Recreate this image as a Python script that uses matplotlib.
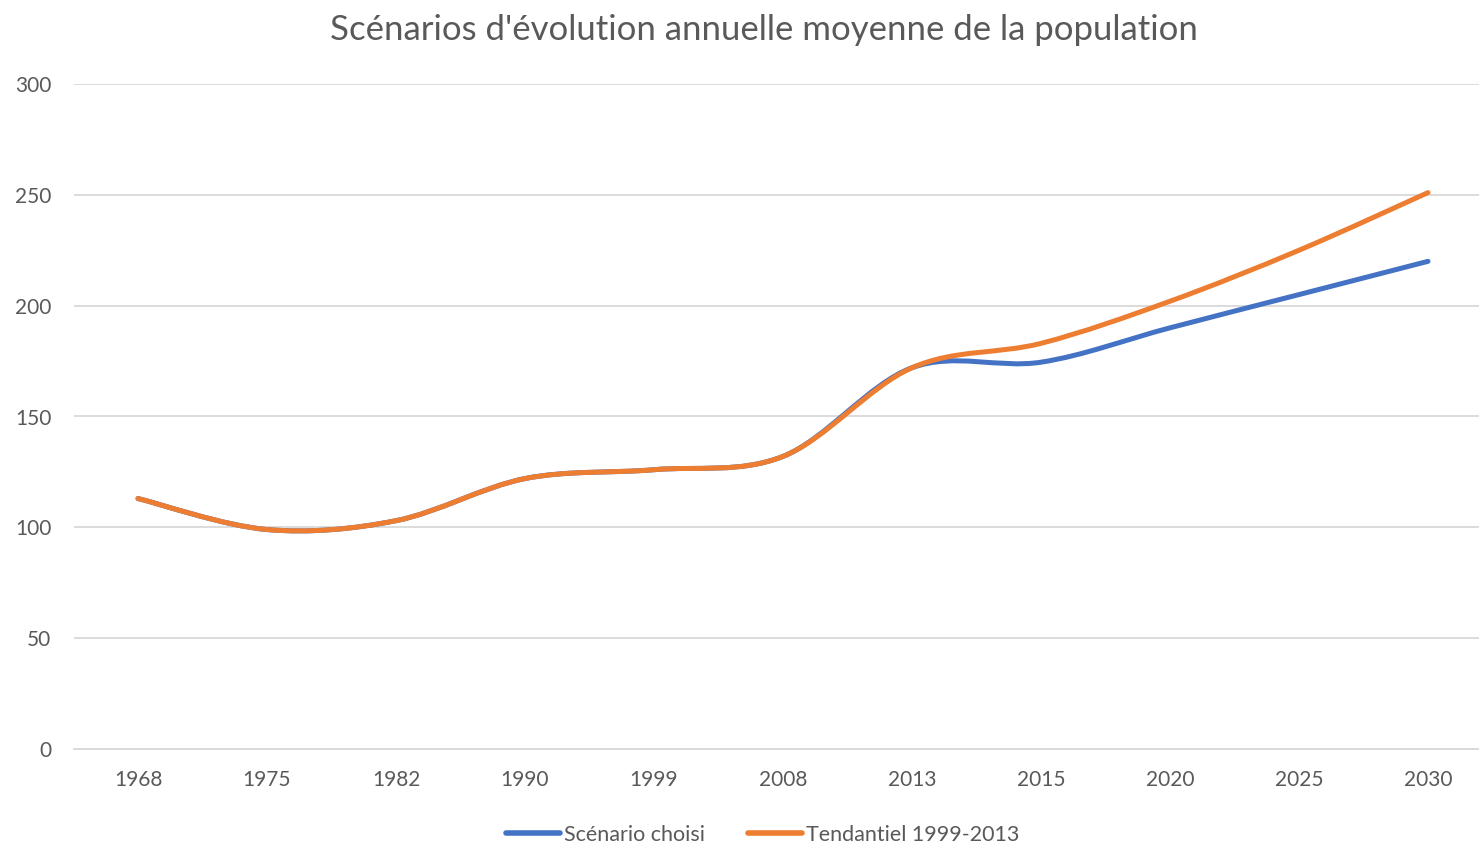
import matplotlib
matplotlib.use("Agg")
import matplotlib.pyplot as plt
from matplotlib.path import Path
from matplotlib.patches import PathPatch
from matplotlib.lines import Line2D
import numpy as np

categories = ["1968", "1975", "1982", "1990", "1999", "2008", "2013", "2015", "2020", "2025", "2030"]
scenario_choisi = [113, 99, 103, 122, 126, 132, 172, 174.5, 190, 205, 220]
tendantiel = [113, 99, 103, 122, 126, 132, 172, 183, 202, 225, 251]
yticks = [0, 50, 100, 150, 200, 250, 300]

BLUE = "#4472C4"
ORANGE = "#ED7D31"
TXT = "#595959"
FONT = ["Lato", "DejaVu Sans"]

plt.rcParams["font.family"] = FONT

fig = plt.figure(figsize=(14.79, 8.46), dpi=100)
ax = fig.add_axes([73.5 / 1479, (846 - 749) / 846, 1419 / 1479, 665 / 846])


def smooth_path(xs, ys):
    pts = np.column_stack([xs, ys]).astype(float)
    n = len(pts)
    verts = [pts[0]]
    codes = [Path.MOVETO]
    for i in range(n - 1):
        p0 = pts[i - 1] if i > 0 else pts[i]
        p1 = pts[i]
        p2 = pts[i + 1]
        p3 = pts[i + 2] if i + 2 < n else pts[i + 1]
        c1 = p1 + (p2 - p0) / 6.0
        c2 = p2 - (p3 - p1) / 6.0
        verts += [c1, c2, p2]
        codes += [Path.CURVE4] * 3
    return Path(verts, codes)


x = np.arange(len(categories))
for series, color in [(scenario_choisi, BLUE), (tendantiel, ORANGE)]:
    patch = PathPatch(smooth_path(x, series), facecolor="none", edgecolor=color,
                      lw=3.6, capstyle="round", joinstyle="round", zorder=3)
    ax.add_patch(patch)

ax.set_xlim(-0.5, len(categories) - 0.5)
ax.set_ylim(0, 300)
ax.set_xticks(x)
ax.set_xticklabels(categories)
ax.set_yticks(yticks)
ax.set_yticklabels([str(v) for v in yticks])
ax.grid(axis="y", color="#D9D9D9", lw=1.3, zorder=0)
ax.tick_params(axis="both", length=0, colors=TXT, labelsize=15)
ax.tick_params(axis="x", pad=15)
ax.tick_params(axis="y", pad=16)
for s in ax.spines.values():
    s.set_visible(False)
ax.spines["bottom"].set_visible(True)
ax.spines["bottom"].set_color("#D9D9D9")
ax.spines["bottom"].set_linewidth(1.3)
ax.set_axisbelow(True)

fig.text(763.5 / 1479, 1 - 30 / 846, "Scénarios d'évolution annuelle moyenne de la population",
         ha="center", va="center", fontsize=25, color=TXT)

handles = [Line2D([], [], color=BLUE, lw=4, solid_capstyle="round"),
           Line2D([], [], color=ORANGE, lw=4, solid_capstyle="round")]
fig.legend(handles, ["Scénario choisi", "Tendantiel 1999-2013"],
           loc="center", bbox_to_anchor=(0.5156, 1 - 835 / 846), ncol=2, frameon=False,
           fontsize=15.5, labelcolor=TXT, handlelength=2.5, handletextpad=0.2,
           columnspacing=2.0)

fig.savefig("out.png", dpi=100)
